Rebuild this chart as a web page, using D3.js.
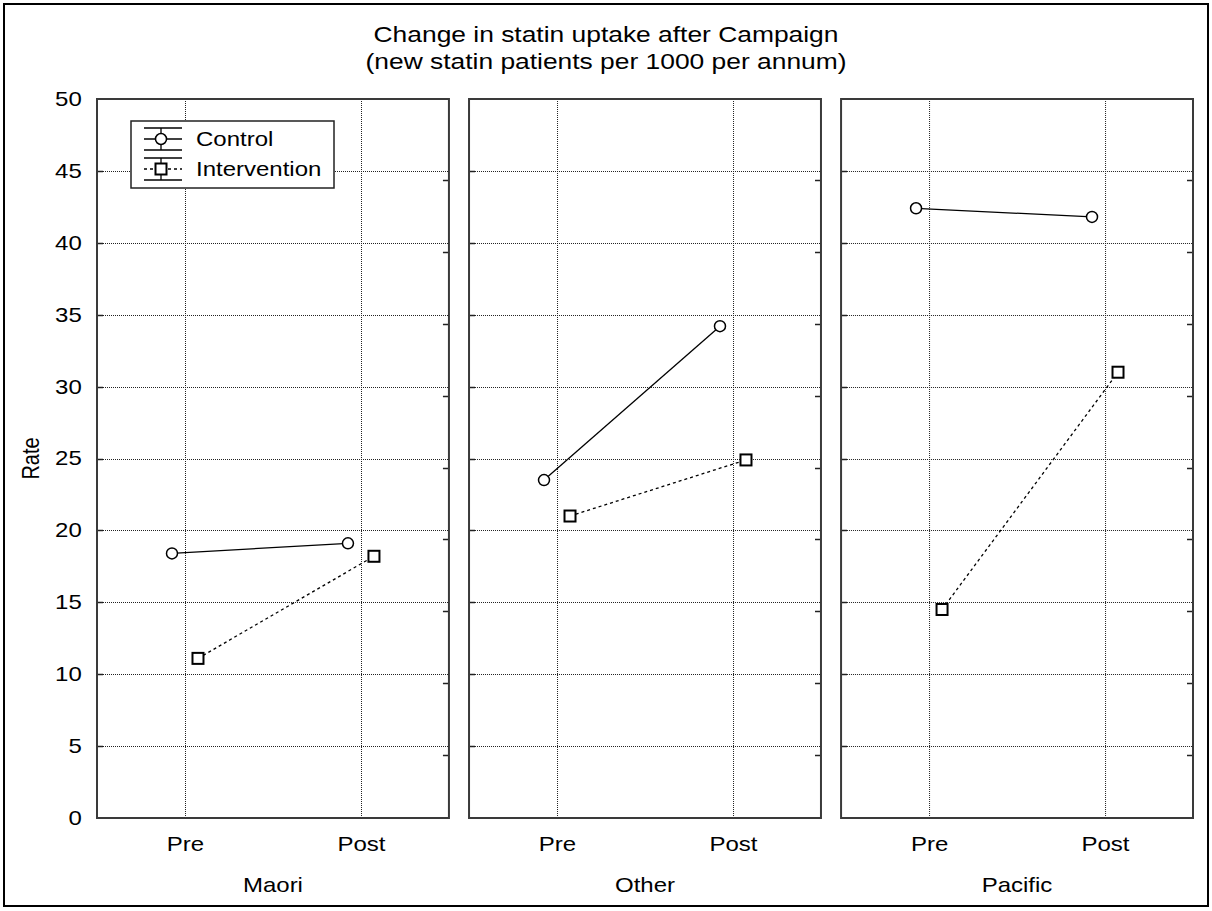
<!DOCTYPE html>
<html>
<head>
<meta charset="utf-8">
<script src="https://cdn.jsdelivr.net/npm/d3@7"></script>
<style>
  body { margin: 0; background: #fff; }
  text { font-family: "Liberation Sans", Arial, sans-serif; fill: #000; }
</style>
</head>
<body>
<div id="chart"></div>
<script>
(function() {
  // data
  const groups = ['Maori', 'Other', 'Pacific'];
  const phases = ['Pre', 'Post'];
  const seriesNames = ['Control', 'Intervention'];
  const controlRates = [[18.4, 19.1], [23.5, 34.2], [42.4, 41.8]];
  const interventionRates = [[11.1, 18.2], [21.0, 24.9], [14.5, 31.0]];
  const yTicks = [0, 5, 10, 15, 20, 25, 30, 35, 40, 45, 50];
  const titleLines = ['Change in statin uptake after Campaign', '(new statin patients per 1000 per annum)'];

  const W = 1212, H = 911;
  const margin = {top: 99, left: 97, right: 19, bottom: 93};
  const innerH = H - margin.top - margin.bottom;
  const SX = 1.2; // the source picture is stretched sideways

  const svg = d3.select('#chart').append('svg')
    .attr('width', W)
    .attr('height', H);

  // place a text at (x,y) with the sideways stretch
  function putText(sel, x, y) {
    return sel.attr('transform', `translate(${x},${y}) scale(${SX},1)`);
  }

  // outer frame
  svg.append('rect')
    .attr('x', 4).attr('y', 4)
    .attr('width', W - 8).attr('height', H - 9)
    .attr('fill', 'none')
    .attr('stroke', '#000')
    .attr('stroke-width', 2);

  // title
  titleLines.forEach((t, i) => {
    svg.append('text')
      .call(putText, W / 2, 42 + i * 27)
      .attr('text-anchor', 'middle')
      .style('font-size', '22px')
      .text(t);
  });

  const panel = d3.scaleBand()
    .domain(groups)
    .range([margin.left, W - margin.right])
    .paddingInner(0.054);
  const pw = panel.bandwidth();

  const x = d3.scalePoint().domain(phases).range([0, pw]).padding(0.5);
  const y = d3.scaleLinear().domain([0, 50]).range([margin.top + innerH, margin.top]);

  const offset = {Control: -13, Intervention: 13};

  // y axis labels
  const yAxis = d3.axisLeft(y).tickValues(yTicks).tickSize(0).tickPadding(11);
  svg.append('g')
    .attr('transform', `translate(${margin.left - 2},0)`)
    .call(yAxis)
    .call(g => g.select('.domain').remove())
    .selectAll('text')
    .style('font-size', '20px')
    .attr('font-family', null)
    .attr('transform', `scale(${SX},1)`);

  svg.append('text')
    .attr('transform', `translate(39,${y(25)}) rotate(-90) scale(1,${SX})`)
    .attr('text-anchor', 'middle')
    .style('font-size', '20px')
    .text('Rate');

  const series = [
    {name: 'Control', values: controlRates, dash: null, shape: 'circle'},
    {name: 'Intervention', values: interventionRates, dash: '3,3', shape: 'square'}
  ];

  groups.forEach((grp, gi) => {
    const g = svg.append('g')
      .attr('class', 'panel')
      .attr('transform', `translate(${panel(grp)},0)`);

    // horizontal grid
    g.append('g').selectAll('line')
      .data(yTicks.filter(v => v > 0 && v < 50))
      .enter().append('line')
      .attr('x1', 0).attr('x2', pw)
      .attr('y1', d => Math.round(y(d)) + 0.5)
      .attr('y2', d => Math.round(y(d)) + 0.5)
      .attr('stroke', '#222')
      .attr('stroke-dasharray', '1,1');

    // vertical grid
    g.append('g').selectAll('line')
      .data(phases)
      .enter().append('line')
      .attr('x1', d => Math.round(x(d)) + 0.5)
      .attr('x2', d => Math.round(x(d)) + 0.5)
      .attr('y1', y(50)).attr('y2', y(0))
      .attr('stroke', '#222')
      .attr('stroke-dasharray', '1,1');

    // small inner ticks on both sides
    g.append('g').selectAll('line')
      .data(yTicks.filter(v => v > 0 && v < 50))
      .enter().append('line')
      .attr('x1', 0).attr('x2', 6)
      .attr('y1', d => Math.round(y(d)) + 0.5)
      .attr('y2', d => Math.round(y(d)) + 0.5)
      .attr('stroke', '#222')
      .attr('stroke-width', 1.5);
    g.append('g').selectAll('line')
      .data(yTicks.filter(v => v > 0 && v < 50))
      .enter().append('line')
      .attr('x1', pw - 6).attr('x2', pw)
      .attr('y1', d => Math.round(y(d)) + 9.5)
      .attr('y2', d => Math.round(y(d)) + 9.5)
      .attr('stroke', '#222')
      .attr('stroke-width', 1.5);

    // frame
    g.append('rect')
      .attr('x', 0).attr('y', y(50))
      .attr('width', pw).attr('height', y(0) - y(50))
      .attr('fill', 'none')
      .attr('stroke', '#3a3a3a')
      .attr('stroke-width', 2);

    // x labels
    g.append('g')
      .attr('transform', `translate(0,${y(0)})`)
      .call(d3.axisBottom(x).tickSize(0).tickPadding(19))
      .call(a => a.select('.domain').remove())
      .selectAll('text')
      .style('font-size', '20px')
      .attr('font-family', null)
      .attr('transform', `scale(${SX},1)`);

    g.append('text')
      .call(putText, pw / 2, 892)
      .attr('text-anchor', 'middle')
      .style('font-size', '20px')
      .text(grp);

    // lines and markers
    series.forEach(s => {
      const pts = phases.map((p, pi) => ({x: x(p) + offset[s.name], y: y(s.values[gi][pi])}));
      const line = d3.line().x(d => d.x).y(d => d.y);
      g.append('path')
        .datum(pts)
        .attr('d', line)
        .attr('fill', 'none')
        .attr('stroke', '#000')
        .attr('stroke-width', 1.3)
        .attr('stroke-dasharray', s.dash);
      if (s.shape === 'circle') {
        g.append('g').selectAll('circle')
          .data(pts)
          .enter().append('circle')
          .attr('cx', d => d.x).attr('cy', d => d.y)
          .attr('r', 5.5)
          .attr('fill', '#fff')
          .attr('stroke', '#000')
          .attr('stroke-width', 1.5);
      } else {
        g.append('g').selectAll('rect')
          .data(pts)
          .enter().append('rect')
          .attr('x', d => d.x - 5.5).attr('y', d => d.y - 5.5)
          .attr('width', 11).attr('height', 11)
          .attr('fill', '#fff')
          .attr('stroke', '#000')
          .attr('stroke-width', 2);
      }
    });
  });

  // legend
  const legend = svg.append('g')
    .attr('class', 'legend')
    .attr('transform', 'translate(131,121)');
  legend.append('rect')
    .attr('width', 203).attr('height', 67)
    .attr('fill', '#fff')
    .attr('stroke', '#222')
    .attr('stroke-width', 1.5);

  seriesNames.forEach((name, i) => {
    const cy = 18 + i * 30;
    const item = legend.append('g').attr('transform', `translate(0,${cy})`);
    // cap lines
    [-11, 11].forEach(dy => {
      item.append('line')
        .attr('x1', 13).attr('x2', 51)
        .attr('y1', dy).attr('y2', dy)
        .attr('stroke', '#000').attr('stroke-width', 1.3);
    });
    item.append('line')
      .attr('x1', 30).attr('x2', 30)
      .attr('y1', -11).attr('y2', 11)
      .attr('stroke', '#000').attr('stroke-width', 1.3);
    item.append('line')
      .attr('x1', 13).attr('x2', 51)
      .attr('y1', 0).attr('y2', 0)
      .attr('stroke', '#000').attr('stroke-width', 1.3)
      .attr('stroke-dasharray', i === 1 ? '3,3' : null);
    if (i === 0) {
      item.append('circle')
        .attr('cx', 30).attr('cy', 0).attr('r', 5.5)
        .attr('fill', '#fff').attr('stroke', '#000').attr('stroke-width', 1.5);
    } else {
      item.append('rect')
        .attr('x', 24.5).attr('y', -5.5).attr('width', 11).attr('height', 11)
        .attr('fill', '#fff').attr('stroke', '#000').attr('stroke-width', 2);
    }
    item.append('text')
      .call(putText, 65, 7)
      .style('font-size', '20px')
      .text(name);
  });
}());
</script>
</body>
</html>
